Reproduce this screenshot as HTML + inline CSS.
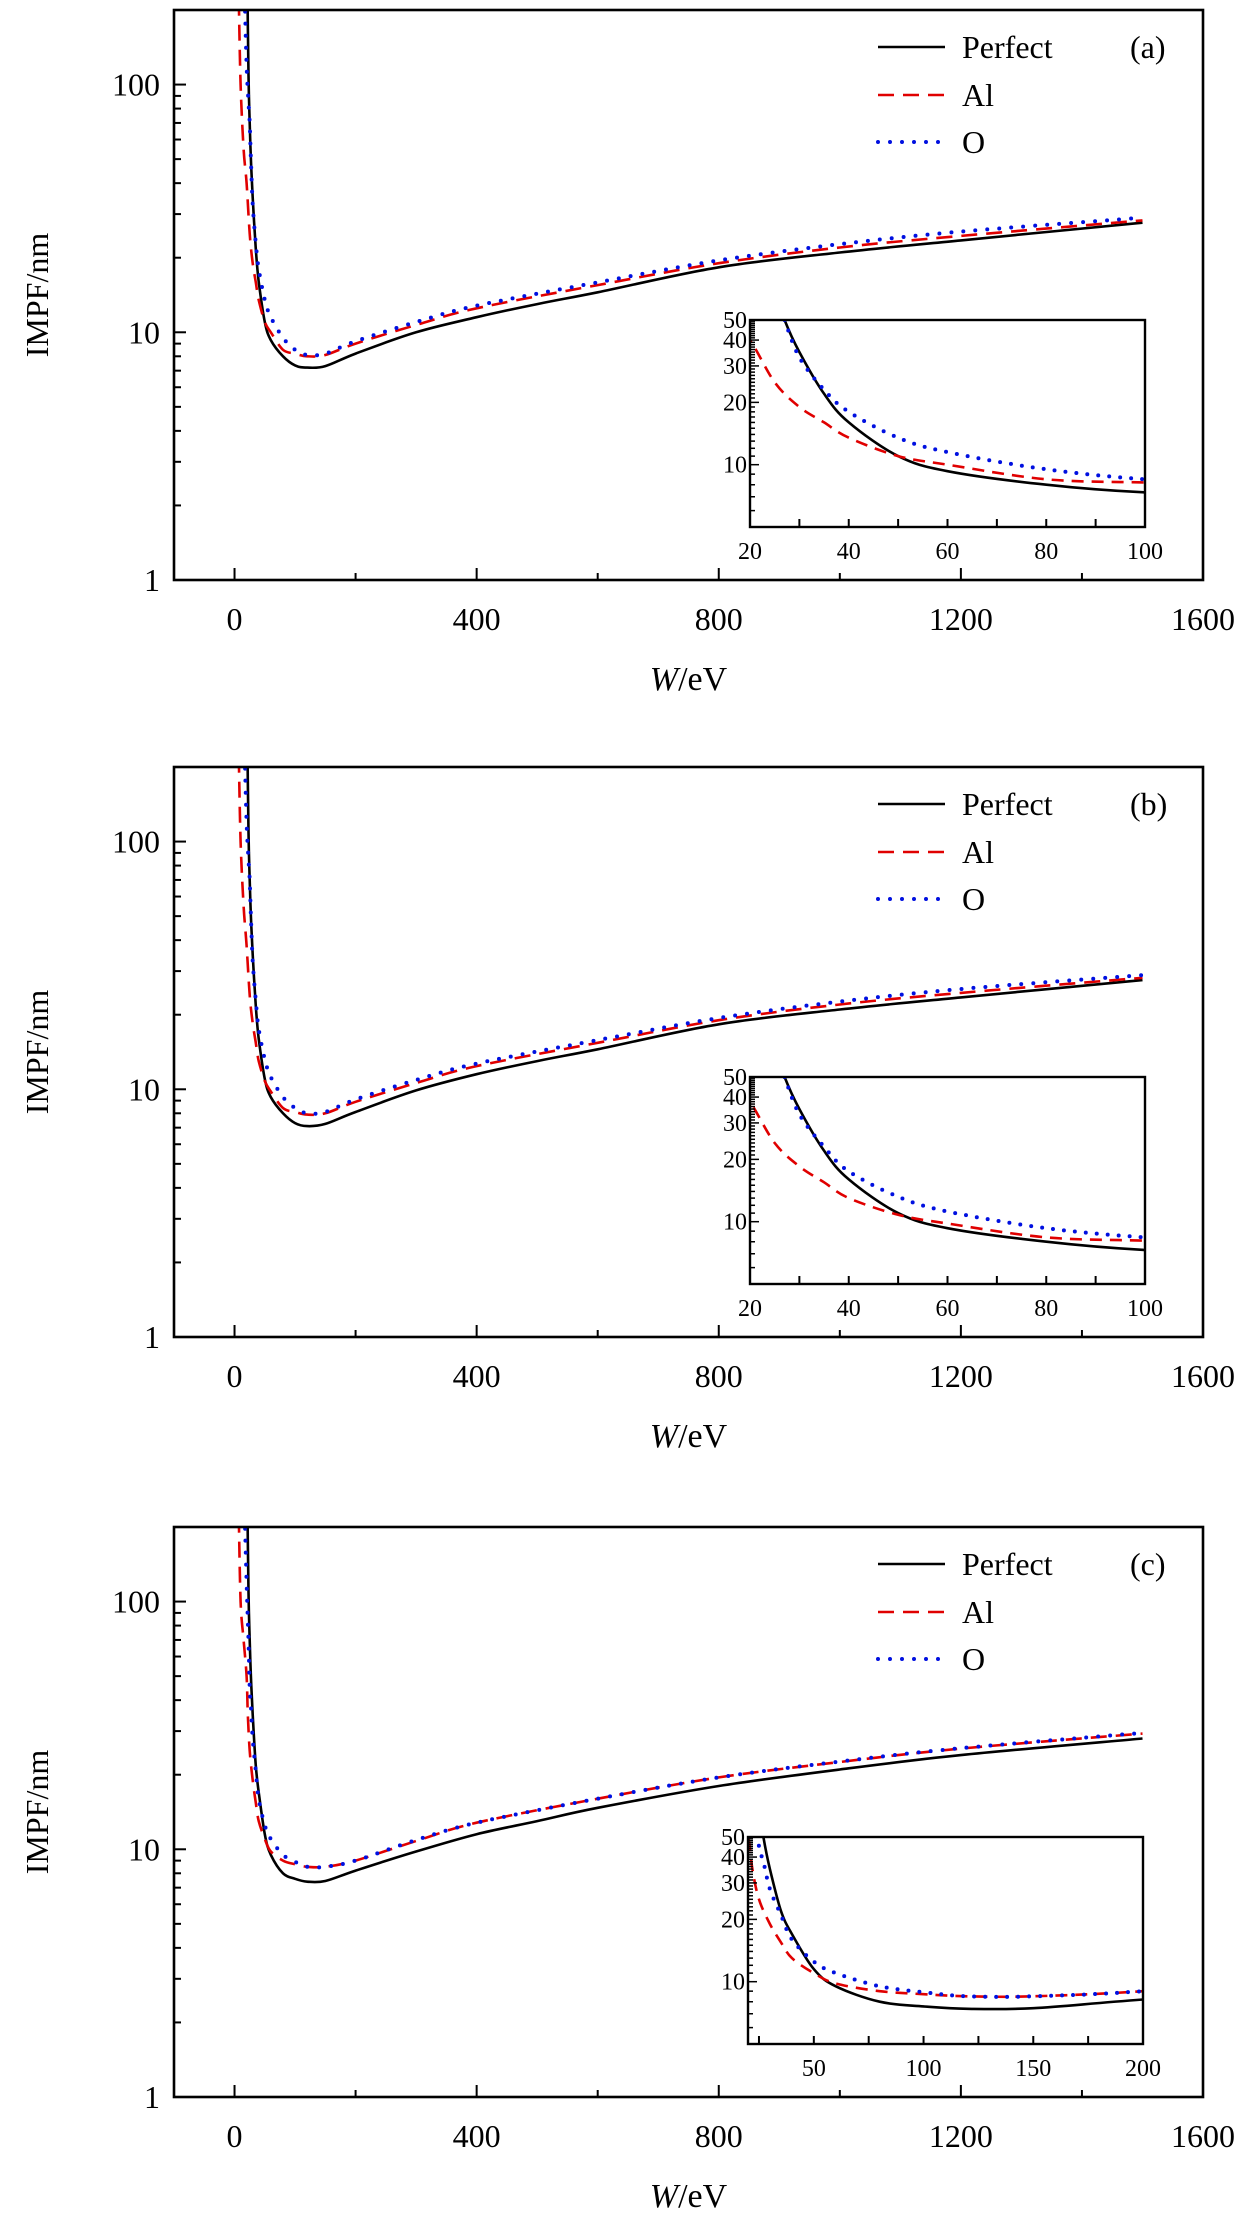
<!DOCTYPE html>
<html><head><meta charset="utf-8"><style>
body{margin:0;background:#fff;width:1260px;height:2220px;overflow:hidden}
svg text{font-family:"Liberation Serif",serif;fill:#000}
</style></head><body>
<svg id="chart" width="1260" height="2220" viewBox="0 0 1260 2220"></svg>
<script>
// ---- data ----
const panelLabels = ["(a)", "(b)", "(c)"];
const seriesNames = ["Perfect", "Al", "O"];
const xTicks = [0, 400, 800, 1200, 1600];
const yTicks = [1, 10, 100];
const insetYTicks = [10, 20, 30, 40, 50];
const insetXTicksAB = [20, 40, 60, 80, 100];
const insetXTicksC = [50, 100, 150, 200];

const perfW = [21,23,25,27,30,35,40,50,60,80,100,120,150,200,300,400,500,600,800,1000,1200,1500];
const perfA = [300,110,70,50,35,22,16,11,9.3,8,7.35,7.2,7.3,8.2,10,11.5,13,14.5,18.3,21,23.5,27.7];
const alW = [7,10,15,20,25,30,35,40,50,60,80,100,120,150,200,300,400,600,800,1000,1200,1500];
const alA = [220,100,55,40,25,19,16,13.5,11,10,8.5,8.2,8,8.1,9,10.7,12.5,15.5,19,22,24.5,28.3];
const oW = [17,20,23,25,27,30,35,40,50,60,80,100,120,150,200,300,400,600,800,1000,1200,1500];
const oA = [220,120,85,70,50,33,23,18,13.5,11.5,9.5,8.5,8.1,8.2,9.2,11,12.8,15.9,19.5,22.7,25.5,29];

const perfB = [300,110,70,50,35,22,16,11,9.3,8,7.3,7.1,7.25,8.1,9.9,11.5,13,14.5,18.3,21,23.5,27.6];
const alB = [220,100,55,38,24,18.5,15.5,13,10.8,9.8,8.4,8.1,7.9,8,8.9,10.6,12.4,15.4,19,22,24.5,28.2];
const oB = [220,120,85,70,50,33,23,17.5,13.2,11.2,9.3,8.4,8,8.1,9.1,10.9,12.7,15.8,19.4,22.6,25.4,28.9];

const perfC = [300,110,70,50,35,22,17,11.5,9.5,8,7.6,7.4,7.45,8.2,9.8,11.5,13,14.7,18,21,24,28];
const alCW = [7,10,15,20,22,25,30,35,40,50,60,80,100,120,150,200,300,400,600,800,1000,1200,1500];
const alC = [220,100,70,50,35,25,19,15.5,13,11,9.8,9,8.7,8.5,8.5,9,10.8,12.8,16,19.5,22.5,25.5,29.3];
const oCW = [17,20,23,25,27,30,35,40,50,60,80,100,120,150,200,300,400,600,800,1000,1200,1500];
const oC = [220,120,70,45,38,28,21,16,12.5,11,9.5,8.9,8.5,8.5,9,10.9,12.8,16,19.5,22.6,25.6,29.5];

const panels = [
 {top:10, lab:0, perf:perfA, al:alA, alW:alW, o:oA, oW:oW, ix:[750,1145], ixr:[20,100], ixt:insetXTicksAB},
 {top:767, lab:1, perf:perfB, al:alB, alW:alW, o:oB, oW:oW, ix:[750,1145], ixr:[20,100], ixt:insetXTicksAB},
 {top:1527, lab:2, perf:perfC, al:alC, alW:alCW, o:oC, oW:oCW, ix:[748,1143], ixr:[20,200], ixt:insetXTicksC}
];

const NS="http://www.w3.org/2000/svg";
const svg=document.getElementById('chart');
function mk(tag,attrs,parent){const e=document.createElementNS(NS,tag);for(const k in attrs)e.setAttribute(k,attrs[k]);(parent||svg).appendChild(e);return e;}
function smoothPath(P){
  let d='M'+P[0][0].toFixed(1)+','+P[0][1].toFixed(1);
  for(let i=0;i<P.length-1;i++){
    const p0=P[Math.max(0,i-1)],p1=P[i],p2=P[i+1],p3=P[Math.min(P.length-1,i+2)];
    const c1=[p1[0]+(p2[0]-p0[0])/6,p1[1]+(p2[1]-p0[1])/6];
    const c2=[p2[0]-(p3[0]-p1[0])/6,p2[1]-(p3[1]-p1[1])/6];
    d+=` C${c1[0].toFixed(1)},${c1[1].toFixed(1)} ${c2[0].toFixed(1)},${c2[1].toFixed(1)} ${p2[0].toFixed(1)},${p2[1].toFixed(1)}`;
  }
  return d;
}

const styles=[
 {stroke:"#000","stroke-width":2.6,fill:"none"},
 {stroke:"#e00000","stroke-width":2.6,fill:"none","stroke-dasharray":"16 9"},
 {stroke:"#0010e0","stroke-width":4,fill:"none","stroke-dasharray":"0 12","stroke-linecap":"round"}
];

panels.forEach((p,pi)=>{
  const L=174,R=1203,T=p.top,B=p.top+570;
  const g=mk('g',{});
  
  
  const xs=v=>L+(v+100)/1700*(R-L);
  const ymin=0,ymax=Math.log10(200);
  const ys=v=>B-(Math.log10(v)-ymin)/(ymax-ymin)*(B-T);
  const cid='clip'+pi;
  const cp=mk('clipPath',{id:cid},g);mk('rect',{x:L,y:T,width:R-L,height:B-T},cp);
  xTicks.forEach(t=>{
    const x=xs(t);
    if(t<1600){const tk=mk('line',{x1:x,x2:x,y1:B,y2:B-12,stroke:"#000","stroke-width":2},g);}
    const tx=mk('text',{x:x,y:B+50,"font-size":32,"text-anchor":"middle"},g);tx.textContent=t;
    
  });
  [200,600,1000,1400].forEach(t=>mk('line',{x1:xs(t),x2:xs(t),y1:B,y2:B-7,stroke:"#000","stroke-width":2},g));
  yTicks.forEach(t=>{
    const y=ys(t);
    mk('line',{x1:L,x2:L+12,y1:y,y2:y,stroke:"#000","stroke-width":2},g);
    const tx=mk('text',{x:L-14,y:y+11,"font-size":32,"text-anchor":"end"},g);tx.textContent=t;
    
  });
  for(let d=1;d<=100;d*=10)for(let m=2;m<=9;m++){const v=d*m;if(v<=200)mk('line',{x1:L,x2:L+7,y1:ys(v),y2:ys(v),stroke:"#000","stroke-width":2},g);}
  const yl=mk('text',{x:0,y:0,"font-size":32,"text-anchor":"middle",transform:`translate(48,${(T+B)/2}) rotate(-90)`},g);
  yl.textContent="IMPF/nm";
  const xl=mk('text',{x:(L+R)/2,y:B+110,"font-size":34,"text-anchor":"middle"},g);
  xl.innerHTML='<tspan font-style="italic">W</tspan>/eV';
  const sets=[[perfW,p.perf],[p.alW,p.al],[p.oW,p.o]];
  sets.forEach((s,si)=>{
    const P=s[0].map((w,i)=>[xs(w),ys(s[1][i])]);
    const pl=mk('path',Object.assign({d:smoothPath(P),"clip-path":`url(#${cid})`},styles[si]),g);
    
    
  });
  const fr=mk('rect',{x:L,y:T,width:R-L,height:B-T,fill:"none",stroke:"#000","stroke-width":2.6},g);
  
  const ly=[T+37,T+85,T+132];
  seriesNames.forEach((n,i)=>{
    const ln=mk('line',Object.assign({x1:878,x2:945,y1:ly[i],y2:ly[i]},styles[i]),g);
    
    const tx=mk('text',{x:962,y:ly[i]+11,"font-size":32},g);tx.textContent=n;
    
  });
  const pl=mk('text',{x:1130,y:ly[0]+11,"font-size":32},g);pl.textContent=panelLabels[p.lab];
  
  // inset
  const iL=p.ix[0],iR=p.ix[1],iT=T+310,iB=T+517;
  const ixs=v=>iL+(v-p.ixr[0])/(p.ixr[1]-p.ixr[0])*(iR-iL);
  const iys=v=>iB-(Math.log10(v)-Math.log10(5))/(Math.log10(50)-Math.log10(5))*(iB-iT);
  const ig=mk('g',{},g);
  mk('rect',{x:iL,y:iT,width:iR-iL,height:iB-iT,fill:"#fff"},ig);
  const icid='iclip'+pi;const icp=mk('clipPath',{id:icid},ig);mk('rect',{x:iL,y:iT,width:iR-iL,height:iB-iT},icp);
  sets.forEach((s,si)=>{
    const P=s[0].map((w,i)=>[ixs(w),iys(s[1][i])]);
    const st=Object.assign({},styles[si]);
    if(si==1)st["stroke-dasharray"]="12 8";
    if(si==2)st["stroke-dasharray"]="0 11";
    const il=mk('path',Object.assign({d:smoothPath(P),"clip-path":`url(#${icid})`},st),ig);
    
    
  });
  mk('rect',{x:iL,y:iT,width:iR-iL,height:iB-iT,fill:"none",stroke:"#000","stroke-width":2.4},ig);
  for(let v=5;v<=50;v++){const big=(v%10==0);mk('line',{x1:iL,x2:iL+(big?9:5),y1:iys(v),y2:iys(v),stroke:"#000","stroke-width":1.5},ig);}
  insetYTicks.forEach(t=>{const tx=mk('text',{x:iL-3,y:iys(t)+8,"font-size":24,"text-anchor":"end"},ig);tx.textContent=t;
    });
  const step=(p.ixt[1]-p.ixt[0])/2;
  for(let v=p.ixr[0]+(pi==2?5:0);v<=p.ixr[1];v+=step){mk('line',{x1:ixs(v),x2:ixs(v),y1:iB,y2:iB-8,stroke:"#000","stroke-width":2},ig);}
  p.ixt.forEach(t=>{const tx=mk('text',{x:ixs(t),y:iB+32,"font-size":24,"text-anchor":"middle"},ig);tx.textContent=t;
    });
});
</script>
</body></html>
